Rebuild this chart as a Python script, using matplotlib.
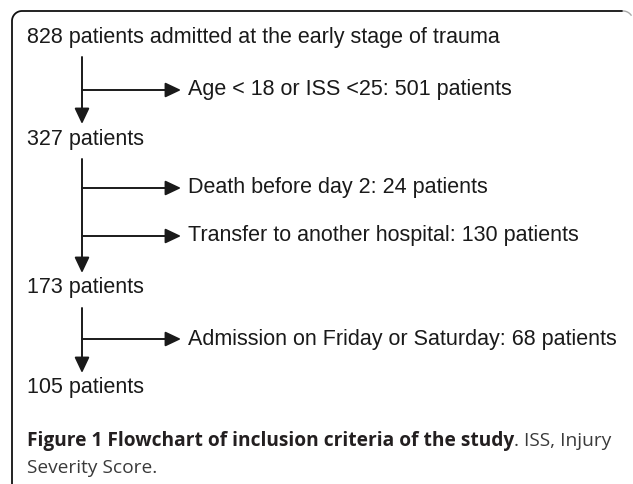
import numpy as np
import matplotlib
matplotlib.use("Agg")
import matplotlib.pyplot as plt

# flowchart content
stages = ["828 patients admitted at the early stage of trauma",
          "327 patients", "173 patients", "105 patients"]
stage_y = [37, 139, 288, 388]
exclusions = ["Age < 18 or ISS <25: 501 patients",
              "Death before day 2: 24 patients",
              "Transfer to another hospital: 130 patients",
              "Admission on Friday or Saturday: 68 patients"]
excl_stage = [0, 1, 1, 2]          # which step each exclusion branches from
excl_y = [90, 188, 236, 339]
caption_bold = "Figure 1 Flowchart of inclusion criteria of the study"
caption_rest = ". ISS, Injury"
caption_line2 = "Severity Score."

W, H = 633, 484
fig = plt.figure(figsize=(W / 100, H / 100), dpi=100)
ax = fig.add_axes([0, 0, 1, 1])
ax.set_xlim(0, W)
ax.set_ylim(H, 0)
ax.axis("off")

ink = "#1a1a1a"
font = dict(family="Liberation Sans", fontsize=15.5, color=ink, va="center")
x_text = 27
x_main = 82
x_tip = 181

# frame with rounded top-left corner, faint curl on the right
r = 10
t = np.linspace(np.pi, 1.5 * np.pi, 20)
xs = np.concatenate([[12], 12 + r + r * np.cos(t), [623]])
ys = np.concatenate([[H], 11 + r + r * np.sin(t), [11]])
ax.plot(xs, ys, color="#111111", lw=1.3, solid_capstyle="butt")
t2 = np.linspace(1.5 * np.pi, 1.8 * np.pi, 10)
ax.plot(623 + r * np.cos(t2), 11 + r + r * np.sin(t2), color="#aaaaaa", lw=1.0)

head = "-|>,head_length=0.95,head_width=0.45"
aprops = dict(arrowstyle=head, mutation_scale=10, lw=1.4, color=ink,
              shrinkA=0, shrinkB=0)

for i, s in enumerate(stages):
    ax.text(x_text, stage_y[i], s, **font)
    if i < len(stages) - 1:
        y0 = stage_y[i] + 20
        y1 = stage_y[i + 1] - 15
        ax.annotate("", xy=(x_main, y1), xytext=(x_main, y0), arrowprops=aprops)

for s, k, y in zip(exclusions, excl_stage, excl_y):
    ax.annotate("", xy=(x_tip, y), xytext=(x_main, y), arrowprops=aprops)
    ax.text(x_tip + 7, y, s, **font)

# caption
cfont = dict(family="Open Sans", fontsize=13.8, va="center")
tb = ax.text(x_text, 441, caption_bold, fontweight="bold", color="#231f20", **cfont)
fig.canvas.draw()
bb = tb.get_window_extent()
x_end = ax.transData.inverted().transform((bb.x1, bb.y0))[0]
ax.text(x_end, 441, caption_rest, color="#3a3a3a", **cfont)
ax.text(x_text, 468, caption_line2, color="#3a3a3a", **cfont)

fig.savefig("out.png", dpi=100)
